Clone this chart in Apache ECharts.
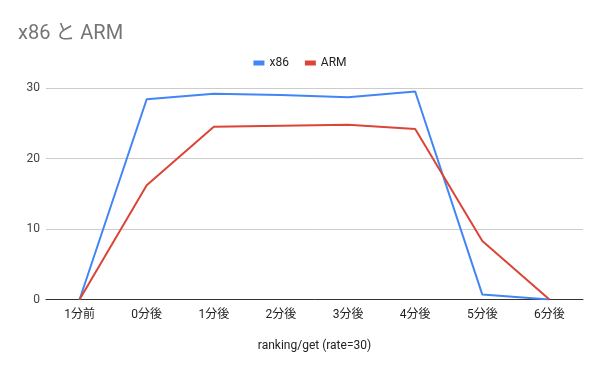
<!DOCTYPE html>
<html><head><meta charset="utf-8">
<script src="https://cdn.jsdelivr.net/npm/echarts@6/dist/echarts.min.js"></script>
<style>html,body{margin:0;padding:0;background:#fff}#c{width:600px;height:371px}</style>
</head><body><div id="c"></div>
<script>
const categories = ['1分前','0分後','1分後','2分後','3分後','4分後','5分後','6分後'];
const x86 = [0, 28.4, 29.2, 29.0, 28.7, 29.5, 0.7, 0];
const arm = [0, 16.2, 24.5, 24.65, 24.8, 24.2, 8.3, 0];
const yTicks = {min: 0, max: 30, interval: 10};
const font = 'Roboto, "Noto Sans CJK JP", sans-serif';
const chart = echarts.init(document.getElementById('c'));
chart.setOption({
  animation: false,
  textStyle: {fontFamily: font},
  title: {text: 'x86 と ARM', left: 13, top: 19,
    textStyle: {fontSize: 20, fontWeight: 'normal', color: '#757575', fontFamily: font}},
  legend: {top: 52, left: 'center', itemWidth: 11, itemHeight: 5, itemGap: 16,
    icon: 'rect', textStyle: {fontSize: 12, color: '#222', fontFamily: font},
    data: ['x86', 'ARM']},
  grid: {left: 46, right: 17, top: 88, bottom: 71.5},
  xAxis: {type: 'category', data: categories, boundaryGap: true,
    name: 'ranking/get (rate=30)', nameLocation: 'middle', nameGap: 40,
    nameTextStyle: {fontSize: 12, color: '#222', fontFamily: font},
    axisLine: {lineStyle: {color: '#333', width: 1}},
    axisTick: {show: false},
    axisLabel: {fontSize: 12, color: '#222', margin: 9, fontFamily: font}},
  yAxis: {type: 'value', min: yTicks.min, max: yTicks.max, interval: yTicks.interval,
    axisLine: {show: false}, axisTick: {show: false},
    splitLine: {lineStyle: {color: '#ccc'}},
    axisLabel: {fontSize: 12, color: '#444', margin: 6, fontFamily: font}},
  series: [
    {name: 'x86', type: 'line', data: x86, symbol: 'none', color: '#4285F4',
      lineStyle: {width: 2}},
    {name: 'ARM', type: 'line', data: arm, symbol: 'none', color: '#DB4437',
      lineStyle: {width: 2}}
  ]
});
</script></body></html>
